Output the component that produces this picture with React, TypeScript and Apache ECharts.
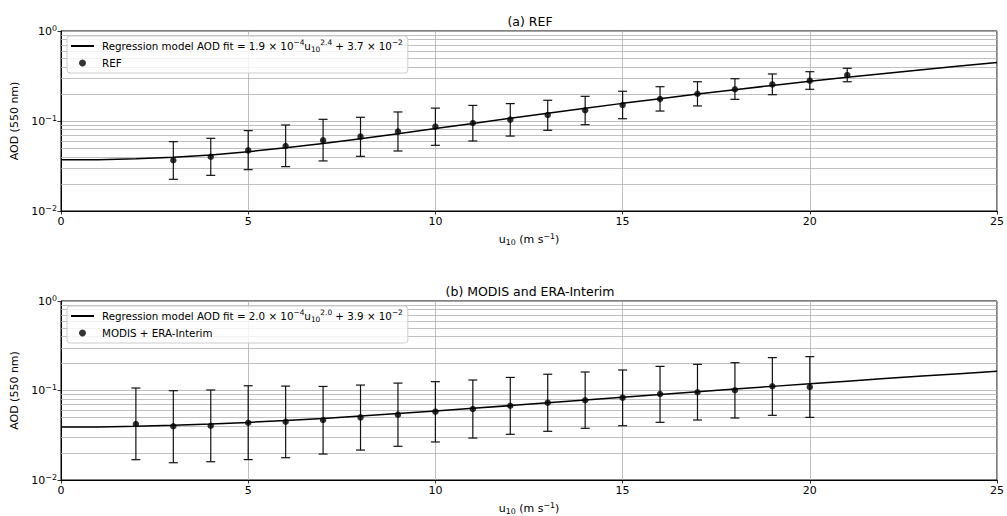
import React, { useEffect, useRef } from 'react';
import * as echarts from 'echarts';

const FONT = 'DejaVu Sans';

// Regression curves
const fitU = [0, 1, 2, 3, 4, 5, 6, 7, 8, 9, 10, 11, 12, 13, 14, 15, 16, 17, 18, 19, 20, 21, 22, 23, 24, 25];
const fitA = [0.037, 0.0372, 0.038, 0.0395, 0.042, 0.0456, 0.0503, 0.0563, 0.0635, 0.0722, 0.0823, 0.094, 0.1072, 0.1221, 0.1387, 0.157, 0.177, 0.199, 0.2227, 0.2485, 0.2763, 0.306, 0.338, 0.372, 0.408, 0.4456];
const fitB = [0.039, 0.0392, 0.0398, 0.0408, 0.0422, 0.044, 0.0462, 0.0488, 0.0518, 0.0552, 0.059, 0.0632, 0.0678, 0.0728, 0.0782, 0.084, 0.0902, 0.0968, 0.1038, 0.1112, 0.119, 0.1272, 0.1358, 0.1448, 0.1542, 0.164];

// (a) REF binned means and error bars
const refU = [3, 4, 5, 6, 7, 8, 9, 10, 11, 12, 13, 14, 15, 16, 17, 18, 19, 20, 21];
const refMean = [0.0366, 0.0401, 0.0472, 0.0527, 0.061, 0.067, 0.0762, 0.0865, 0.095, 0.1035, 0.1166, 0.1315, 0.1507, 0.1755, 0.201, 0.225, 0.255, 0.2805, 0.324];
const refLow = [0.0225, 0.0249, 0.0288, 0.0311, 0.036, 0.0405, 0.0464, 0.0537, 0.06, 0.068, 0.0788, 0.091, 0.106, 0.129, 0.147, 0.174, 0.196, 0.225, 0.273];
const refHigh = [0.0589, 0.0642, 0.0781, 0.0903, 0.1044, 0.11, 0.126, 0.139, 0.149, 0.156, 0.17, 0.188, 0.214, 0.2405, 0.273, 0.295, 0.333, 0.353, 0.385];

// (b) MODIS + ERA-Interim binned means and error bars
const modU = [2, 3, 4, 5, 6, 7, 8, 9, 10, 11, 12, 13, 14, 15, 16, 17, 18, 19, 20];
const modMean = [0.0422, 0.0398, 0.0404, 0.0436, 0.0448, 0.0468, 0.0501, 0.0537, 0.058, 0.0621, 0.0676, 0.0731, 0.0777, 0.0832, 0.0914, 0.0955, 0.1005, 0.1114, 0.1094];
const modLow = [0.01686, 0.0156, 0.016, 0.0169, 0.01775, 0.0195, 0.0216, 0.0238, 0.0266, 0.0294, 0.0324, 0.035, 0.0378, 0.0404, 0.0441, 0.0468, 0.0493, 0.0528, 0.0501];
const modHigh = [0.1066, 0.0995, 0.1013, 0.113, 0.112, 0.111, 0.115, 0.121, 0.1255, 0.131, 0.14, 0.152, 0.161, 0.1695, 0.186, 0.196, 0.2045, 0.233, 0.239];

// axis ticks
const xTicks = [0, 5, 10, 15, 20, 25];
const yTickValues = [0.01, 0.1, 1];
const yTickExps = ['−2', '−1', '0'];
const minorGrid = [0.02, 0.03, 0.04, 0.05, 0.06, 0.07, 0.08, 0.09, 0.2, 0.3, 0.4, 0.5, 0.6, 0.7, 0.8, 0.9];

const titles = ['(a) REF', '(b) MODIS and ERA-Interim'];
const legendText: Record<string, string> = {
  fitA: 'Regression model AOD fit = 1.9 × 10{sup|−4}u{sub|10}{sup|2.4} + 3.7 × 10{sup|−2}',
  REF: 'REF',
  fitB: 'Regression model AOD fit = 2.0 × 10{sup|−4}u{sub|10}{sup|2.0} + 3.9 × 10{sup|−2}',
  'MODIS + ERA-Interim': 'MODIS + ERA-Interim',
};

const GRIDS = [
  { top: 31, height: 180 },
  { top: 301, height: 179 },
];

function richSmall(base: number) {
  return {
    sup: { fontSize: base * 0.72, fontFamily: FONT, color: '#000', verticalAlign: 'top', lineHeight: base * 0.8 },
    sub: { fontSize: base * 0.72, fontFamily: FONT, color: '#000', verticalAlign: 'bottom', lineHeight: base * 0.8 },
  };
}

function errRender(params: any, api: any) {
  const x = api.value(0);
  const lo = api.value(1);
  const hi = api.value(2);
  const a = api.coord([x, lo]);
  const b = api.coord([x, hi]);
  const cap = 4.5;
  const style = { stroke: '#111', lineWidth: 1.2 };
  return {
    type: 'group',
    children: [
      { type: 'line', shape: { x1: a[0], y1: a[1], x2: b[0], y2: b[1] }, style },
      { type: 'line', shape: { x1: a[0] - cap, y1: a[1], x2: a[0] + cap, y2: a[1] }, style },
      { type: 'line', shape: { x1: b[0] - cap, y1: b[1], x2: b[0] + cap, y2: b[1] }, style },
    ],
  };
}

export default function App() {
  const ref = useRef<HTMLDivElement>(null);
  useEffect(() => {
    if (!ref.current) return;
    const chart = echarts.init(ref.current, undefined, { renderer: 'svg' });
    const gridLine = { color: '#b0b0b0', width: 0.8 };

    const xAxis = GRIDS.map((g, i) => ({
      type: 'value',
      gridIndex: i,
      min: xTicks[0],
      max: xTicks[xTicks.length - 1],
      interval: 5,
      name: 'u{sub|10} (m s{sup|−1})',
      nameLocation: 'middle',
      nameGap: 21,
      nameTextStyle: { fontSize: 11, fontFamily: FONT, color: '#000', lineHeight: 14, rich: richSmall(11) },
      axisLine: { show: true, lineStyle: { color: '#000', width: 1 } },
      axisTick: { show: true, length: 3.5, lineStyle: { color: '#000', width: 0.8 } },
      axisLabel: { fontSize: 11, fontFamily: FONT, color: '#000', margin: 5 },
      splitLine: { show: true, lineStyle: gridLine },
    }));

    const yAxis = GRIDS.map((g, i) => ({
      type: 'log',
      logBase: 10,
      gridIndex: i,
      min: yTickValues[0],
      max: yTickValues[yTickValues.length - 1],
      name: 'AOD (550 nm)',
      nameLocation: 'middle',
      nameGap: 41,
      nameTextStyle: { fontSize: 11, fontFamily: FONT, color: '#000' },
      axisLine: { show: true, lineStyle: { color: '#000', width: 1 } },
      axisTick: { show: true, length: 3.5, lineStyle: { color: '#000', width: 0.8 } },
      axisLabel: {
        fontSize: 11,
        fontFamily: FONT,
        color: '#000',
        margin: 4,
        lineHeight: 14,
        formatter: (v: number) => {
          const idx = yTickValues.findIndex((t) => Math.abs(Math.log10(t) - Math.log10(v)) < 0.01);
          return idx >= 0 ? '10{sup|' + yTickExps[idx] + '}' : '';
        },
        rich: richSmall(11),
      },
      splitLine: { show: true, lineStyle: gridLine },
    }));

    const mk = () => ({
      silent: true,
      symbol: ['none', 'none'],
      label: { show: false },
      z: 1,
      lineStyle: { color: '#b0b0b0', width: 0.8, type: 'solid' },
      emphasis: { disabled: true },
      data: minorGrid.map((v) => ({ yAxis: v })),
    });

    const series: any[] = [
      {
        name: 'fitA', type: 'line', xAxisIndex: 0, yAxisIndex: 0, z: 4,
        data: fitU.map((u, k) => [u, fitA[k]]), symbol: 'none',
        lineStyle: { color: '#000', width: 1.5 }, itemStyle: { color: '#000' },
        markLine: mk(),
      },
      {
        name: 'errA', type: 'custom', xAxisIndex: 0, yAxisIndex: 0, z: 3,
        renderItem: errRender,
        encode: { x: 0, y: [1, 2] },
        data: refU.map((u, k) => [u, refLow[k], refHigh[k]]),
      },
      {
        name: 'REF', type: 'scatter', xAxisIndex: 0, yAxisIndex: 0, z: 5,
        symbol: 'circle', symbolSize: 6.5, itemStyle: { color: '#000' },
        data: refU.map((u, k) => [u, refMean[k]]),
      },
      {
        name: 'fitB', type: 'line', xAxisIndex: 1, yAxisIndex: 1, z: 4,
        data: fitU.map((u, k) => [u, fitB[k]]), symbol: 'none',
        lineStyle: { color: '#000', width: 1.5 }, itemStyle: { color: '#000' },
        markLine: mk(),
      },
      {
        name: 'errB', type: 'custom', xAxisIndex: 1, yAxisIndex: 1, z: 3,
        renderItem: errRender,
        encode: { x: 0, y: [1, 2] },
        data: modU.map((u, k) => [u, modLow[k], modHigh[k]]),
      },
      {
        name: 'MODIS + ERA-Interim', type: 'scatter', xAxisIndex: 1, yAxisIndex: 1, z: 5,
        symbol: 'circle', symbolSize: 6.5, itemStyle: { color: '#000' },
        data: modU.map((u, k) => [u, modMean[k]]),
      },
    ];

    const legendBase = {
      orient: 'vertical',
      left: 67,
      itemWidth: 23,
      itemHeight: 7,
      itemGap: 3,
      padding: [3, 5, 3, 3],
      backgroundColor: 'rgba(255,255,255,0.8)',
      borderColor: '#cccccc',
      borderWidth: 1,
      borderRadius: 3,
      selectedMode: false,
      textStyle: { fontSize: 10.3, fontFamily: FONT, color: '#000', lineHeight: 14, padding: [0, 0, 0, 3], rich: richSmall(10.3) },
      formatter: (name: string) => legendText[name] || name,
    };
    const hiddenSym = { opacity: 0, color: 'rgba(0,0,0,0)', borderWidth: 0 };

    chart.setOption({
      animation: false,
      backgroundColor: '#fff',
      textStyle: { fontFamily: FONT },
      grid: GRIDS.map((g) => ({
        left: 61, width: 938, top: g.top, height: g.height,
        show: true, borderColor: '#000', borderWidth: 1, backgroundColor: 'transparent',
      })),
      xAxis,
      yAxis,
      legend: [
        { ...legendBase, top: 36, data: [{ name: 'fitA', itemStyle: hiddenSym }, 'REF'] },
        { ...legendBase, top: 306, data: [{ name: 'fitB', itemStyle: hiddenSym }, 'MODIS + ERA-Interim'] },
      ],
      graphic: GRIDS.map((g, i) => ({
        type: 'text',
        x: 530,
        y: g.top - 10,
        z: 10,
        style: { text: titles[i], fontSize: 12.5, fontFamily: FONT, fill: '#000', textAlign: 'center', textVerticalAlign: 'middle' },
      })),
      series,
    });
    return () => chart.dispose();
  }, []);
  return <div ref={ref} style={{ width: 1007, height: 516, position: 'absolute', left: 0, top: 0 }} />;
}
